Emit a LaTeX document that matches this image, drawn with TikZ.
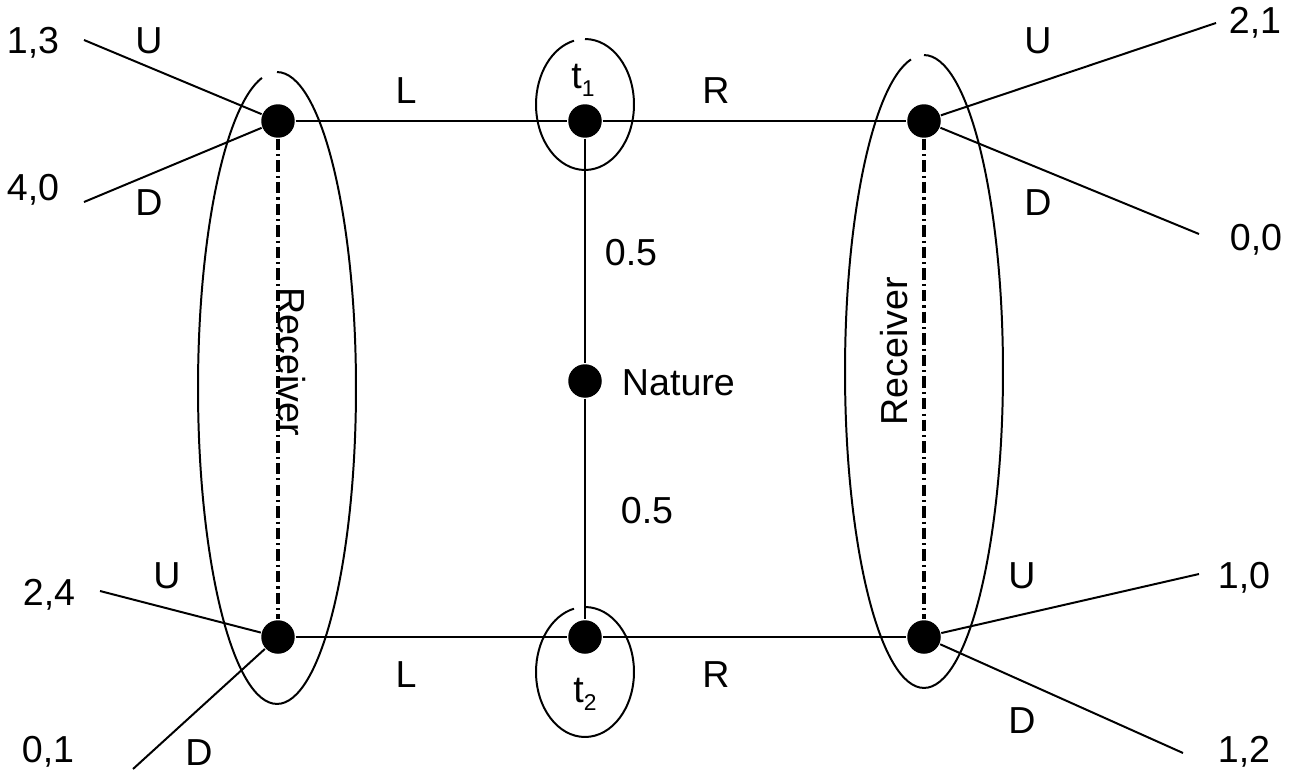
\documentclass[tikz,border=0pt]{standalone}
\usepackage{fontspec}
\setmainfont{Liberation Sans}
\begin{document}
\begin{tikzpicture}[x=0.02cm,y=-0.02cm,line width=1.13pt,
  dot/.style={circle,fill=black,draw=none,inner sep=0pt,minimum size=0.67cm},
  lbl/.style={inner sep=0pt,anchor=base,font=\fontsize{21.4}{26}\selectfont},
  info/.style={line width=2pt,dash pattern=on 6.5pt off 2.3pt on 1.2pt off 2.3pt},
  oval/.style={line width=1.13pt}]
\useasboundingbox (0,0) rectangle (1289,771);
% decision nodes
\node[dot] (tl) at (278,121) {};
\node[dot] (t1) at (585,121) {};
\node[dot] (tr) at (924,121) {};
\node[dot] (nat) at (585,381) {};
\node[dot] (bl) at (278,637) {};
\node[dot] (t2) at (585,637) {};
\node[dot] (br) at (924,637) {};
% payoff ends
\coordinate (e13) at (84,40);
\coordinate (e40) at (84,202);
\coordinate (e21) at (1216,23);
\coordinate (e00) at (1199,234);
\coordinate (e24) at (100,591);
\coordinate (e01) at (133,769);
\coordinate (e10) at (1199,574);
\coordinate (e12) at (1183,753);
% ellipse centres
\coordinate (cl) at (277,388);
\coordinate (cr) at (924,371.5);
\coordinate (c1) at (585,104.5);
\coordinate (c2) at (585,672);
% connectors
\draw (tl) -- (t1) -- (tr);
\draw (bl) -- (t2) -- (br);
\draw (t1) -- (nat) -- (t2);
\draw (tl) -- (e13);
\draw (tl) -- (e40);
\draw (tr) -- (e21);
\draw (tr) -- (e00);
\draw (bl) -- (e24);
\draw (bl) -- (e01);
\draw (br) -- (e10);
\draw (br) -- (e12);
\draw[info] (tl) -- (bl);
\draw[info] (tr) -- (br);
% information sets
\draw[oval] ([yshift=6.32cm]cl) arc[start angle=90,end angle=-259,x radius=1.58cm,y radius=6.32cm];
\draw[oval] ([yshift=6.33cm]cr) arc[start angle=90,end angle=-260.5,x radius=1.58cm,y radius=6.33cm];
\draw[oval] ([yshift=1.31cm]c1) arc[start angle=90,end angle=-257,x radius=0.98cm,y radius=1.31cm];
\draw[oval] ([yshift=1.30cm]c2) arc[start angle=90,end angle=-257,x radius=0.98cm,y radius=1.30cm];
% labels
\node[lbl] (p13) at (33,53) {1,3};
\node[lbl] (u1) at (149,53) {U};
\node[lbl] (p40) at (33,200) {4,0};
\node[lbl] (d1) at (149,215) {D};
\node[lbl] (l1) at (406,103) {L};
\node[lbl] (r1) at (716,103) {R};
\node[lbl] (lt1) at (583,88) {t\raisebox{-5.1pt}{\fontsize{13}{13}\selectfont 1}};
\node[lbl] (u2) at (1038,53) {U};
\node[lbl] (p21) at (1255,33) {2,1};
\node[lbl] (d2) at (1038,215) {D};
\node[lbl] (p00) at (1256,250) {0,0};
\node[lbl] (h1) at (631,265) {0.5};
\node[lbl,anchor=base west] (ln) at (621,395) {Nature};
\node[lbl] (h2) at (647,523) {0.5};
\node[lbl,rotate=-90] (rl) at (278,361.5) {Receiver};
\node[lbl,rotate=90] (rr) at (907,351.5) {Receiver};
\node[lbl] (p24) at (49,605) {2,4};
\node[lbl] (u3) at (167,588) {U};
\node[lbl] (p01) at (48,762) {0,1};
\node[lbl] (d3) at (199,765) {D};
\node[lbl] (l2) at (406,687) {L};
\node[lbl] (r2) at (716,687) {R};
\node[lbl] (lt2) at (585,702) {t\raisebox{-5.1pt}{\fontsize{13}{13}\selectfont 2}};
\node[lbl] (u4) at (1022,588) {U};
\node[lbl] (p10) at (1244,588) {1,0};
\node[lbl] (d4) at (1022,733) {D};
\node[lbl] (p12) at (1244,762) {1,2};
\end{tikzpicture}
\end{document}
